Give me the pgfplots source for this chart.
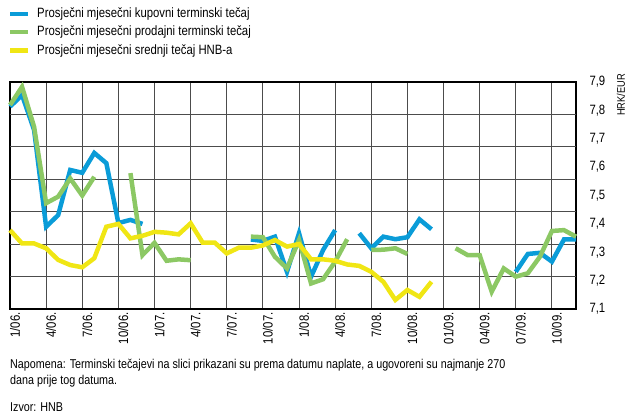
\documentclass[border=0pt]{standalone}
\usepackage{fontspec}
\setmainfont{Liberation Sans}[FakeStretch=0.84]
\usepackage{pgfplots}
\pgfplotsset{compat=1.18}
\usepackage{pgfplotstable}
\definecolor{cblue}{RGB}{10,156,216}
\definecolor{cgreen}{RGB}{140,200,100}
\definecolor{cyellow}{RGB}{240,230,20}
\newcommand\lf{\fontsize{13.5bp}{16bp}\selectfont}
\newcommand\nf{\fontsize{12.8bp}{15.5bp}\selectfont}

\pgfplotstableread{
i blue green yellow
0 7.813 7.819 7.378
1 7.854 7.883 7.331
2 7.731 7.742 7.331
3 7.390 7.473 7.314
4 7.431 7.496 7.273
5 7.590 7.560 7.255
6 7.580 7.500 7.247
7 7.650 7.566 7.279
8 7.614 nan 7.390
9 7.403 nan 7.400
10 7.414 7.579 7.349
11 7.400 7.290 7.358
12 nan 7.333 7.372
13 nan 7.270 7.369
14 nan 7.275 7.363
15 nan 7.272 7.402
16 nan nan 7.334
17 nan nan 7.334
18 nan nan 7.296
19 nan nan 7.316
20 7.345 7.355 7.316
21 7.340 7.353 7.324
22 7.355 7.284 7.343
23 7.231 7.243 7.320
24 7.367 7.343 7.329
25 7.214 7.190 7.275
26 7.308 7.205 7.275
27 7.378 7.267 7.270
28 nan 7.346 7.257
29 7.367 nan 7.252
30 7.314 7.308 7.231
31 7.355 7.309 7.196
32 7.346 7.314 7.132
33 7.353 7.294 7.167
34 7.416 nan 7.143
35 7.381 nan 7.196
36 nan nan nan
37 nan 7.314 nan
38 nan 7.290 nan
39 nan 7.290 nan
40 nan 7.161 nan
41 nan 7.243 nan
42 7.231 7.214 nan
43 7.294 7.226 nan
44 7.298 7.284 nan
45 7.267 7.375 nan
46 7.345 7.378 nan
47 7.345 7.355 nan
}\data

\begin{document}
\begin{tikzpicture}
\useasboundingbox (0,0) rectangle (628bp,-419bp);
% legend
\draw[cblue, line width=4.5bp] (10bp,-14bp) -- (28bp,-14bp);
\node[anchor=west, inner sep=0pt] at (37bp,-14bp) {\lf Prosječni mjesečni kupovni terminski tečaj};
\draw[cgreen, line width=4.5bp] (10bp,-32bp) -- (28bp,-32bp);
\node[anchor=west, inner sep=0pt] at (37bp,-32bp) {\lf Prosječni mjesečni prodajni terminski tečaj};
\draw[cyellow, line width=4.5bp] (10bp,-50.5bp) -- (28bp,-50.5bp);
\node[anchor=west, inner sep=0pt] at (37bp,-50.5bp) {\lf Prosječni mjesečni srednji tečaj HNB-a};
\begin{axis}[
  at={(10bp,-309bp)}, anchor=south west,
  scale only axis, width=566bp, height=227bp,
  xmin=0, xmax=47, ymin=7.1, ymax=7.9,
  xtick={0,3,...,45},
  xticklabels={1/06.,4/06.,7/06.,10/06.,1/07.,4/07.,7/07.,10/07.,1/08.,4/08.,7/08.,10/08.,01/09.,04/09.,07/09.,10/09.},
  xticklabel style={font=\lf, xshift=5bp, rotate=90, anchor=east},
  ytick={7.1,7.2,7.3,7.4,7.5,7.6,7.7,7.8,7.9},
  yticklabels={{7,1},{7,2},{7,3},{7,4},{7,5},{7,6},{7,7},{7,8},{7,9}},
  yticklabel pos=right,
  yticklabel style={font=\lf, anchor=west, xshift=10bp},
  extra y ticks={7.2142857,7.3285714,7.4428571,7.5571429,7.6714286,7.7857143},
  extra y tick labels={},
  extra y tick style={grid=major},
  xmajorgrids,
  major tick length=0pt,
  grid style={black!70, line width=1bp},
  axis line style={black, line width=1.4bp},
  unbounded coords=jump,
  clip=false,
]
\addplot[cblue, line width=4.5bp] table[x=i, y=blue] {\data};
\addplot[cgreen, line width=4.5bp] table[x=i, y=green] {\data};
\addplot[cyellow, line width=4.5bp] table[x=i, y=yellow] {\data};
\end{axis}
\node[rotate=90, inner sep=0pt, font=\fontsize{11bp}{13bp}\selectfont] at (621bp,-95bp) {HRK/EUR};
\node[anchor=north west, inner sep=0pt, align=left, font=\nf] at (10bp,-359bp) {Napomena: Terminski tečajevi na slici prikazani su prema datumu naplate, a ugovoreni su najmanje 270\\dana prije tog datuma.};
\node[anchor=north west, inner sep=0pt, font=\nf] at (10bp,-402bp) {Izvor: HNB};
\end{tikzpicture}
\end{document}
